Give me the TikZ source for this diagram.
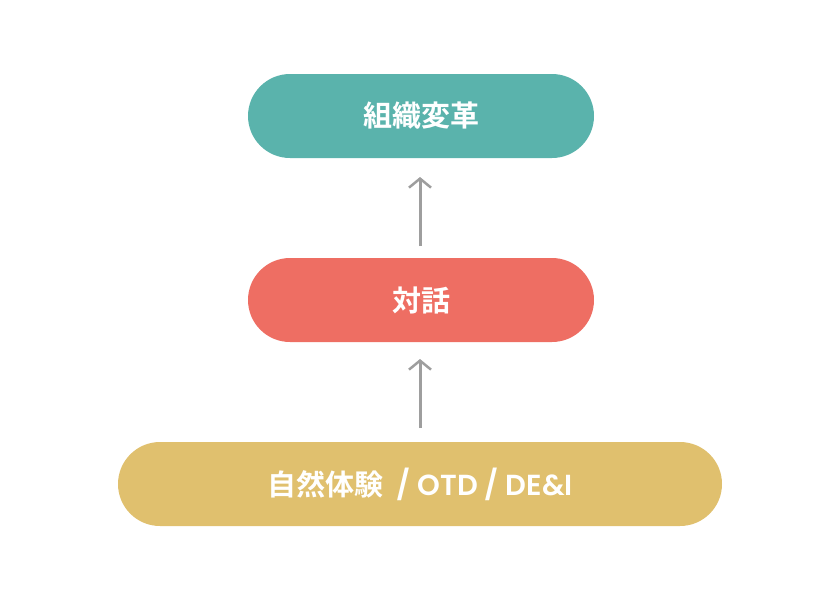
\documentclass[tikz,border=0pt]{standalone}
\usepackage{fontspec}
\setmainfont{Noto Sans CJK JP}[BoldFont={* Bold}]
\newfontfamily\latinf{Poppins}[BoldFont={* SemiBold}]
\usetikzlibrary{arrows.meta}
\definecolor{teal}{HTML}{5AB3AC}
\definecolor{coral}{HTML}{EE6E63}
\definecolor{gold}{HTML}{E0C06E}
\definecolor{arr}{HTML}{9E9E9E}
\begin{document}
\begin{tikzpicture}[x=1pt,y=-1pt,
 pill/.style={rounded corners=42pt,minimum height=84pt,text=white,font=\bfseries\fontsize{29}{34}\selectfont,inner sep=0pt},
 conn/.style={draw=arr,line width=3pt,-{Straight Barb[length=9pt,width=22pt,line width=2.5pt]}}]
\useasboundingbox (0,0) rectangle (840,600);
\node[pill,fill=teal,minimum width=346pt] (a) at (421,116) {組織変革};
\node[pill,fill=coral,minimum width=346pt] (b) at (421,300) {対話};
\node[pill,fill=gold,minimum width=604pt] (c) at (420,484) {自然体験 {\latinf\bfseries\ / OTD / DE\&I}};
\coordinate (b1) at (420,246); \coordinate (a1) at (420,177);
\coordinate (c1) at (420,428); \coordinate (b2) at (420,359);
\draw[conn] (b1) -- (a1);
\draw[conn] (c1) -- (b2);
\end{tikzpicture}
\end{document}
